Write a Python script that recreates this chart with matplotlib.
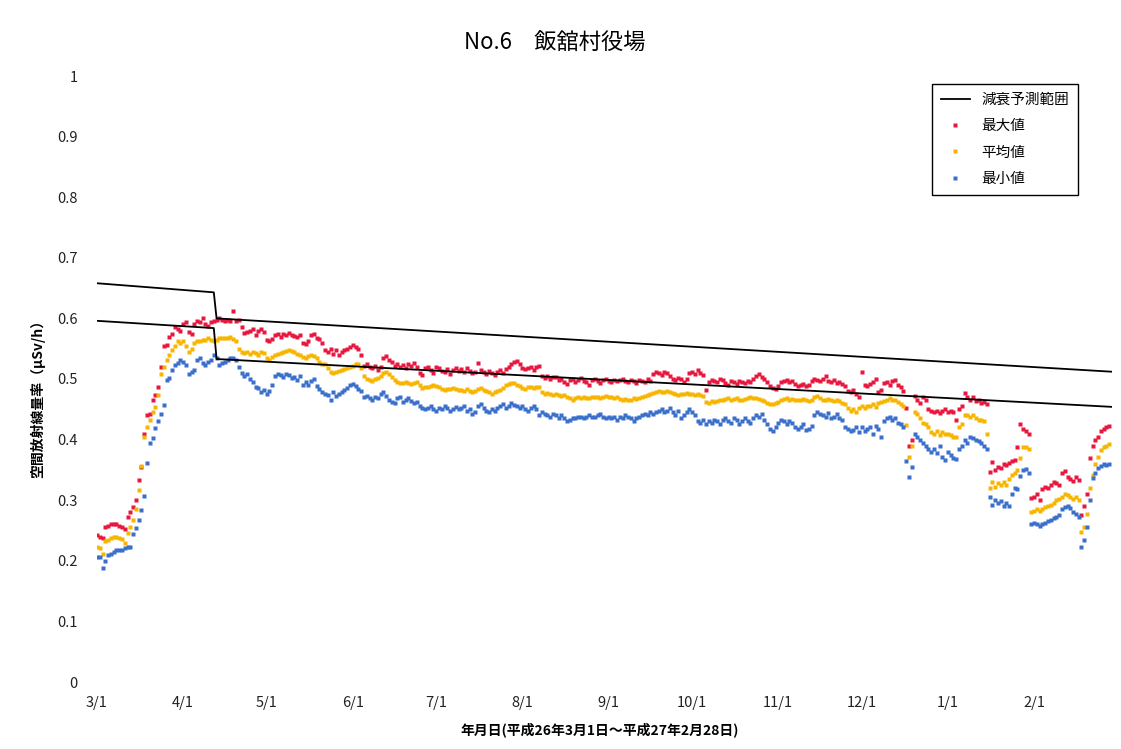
import numpy as np
import pandas as pd
import matplotlib
matplotlib.use("Agg")
import matplotlib.pyplot as plt
from matplotlib.lines import Line2D

plt.rcParams['font.family'] = ['Noto Sans CJK JP', 'DejaVu Sans']

# daily values, one line per month (Mar 2014 .. Feb 2015)
max_vals = [
    0.243, 0.24, 0.238, 0.255, 0.258, 0.26, 0.261, 0.26, 0.258, 0.256, 0.252, 0.273, 0.281, 0.289, 0.3, 0.334, 0.355, 0.41, 0.44, 0.443, 0.465, 0.473, 0.487, 0.52, 0.554, 0.556, 0.57, 0.575, 0.586, 0.583, 0.58,
    0.591, 0.594, 0.577, 0.575, 0.59, 0.595, 0.594, 0.601, 0.59, 0.588, 0.594, 0.595, 0.597, 0.6, 0.597, 0.595, 0.597, 0.595, 0.612, 0.596, 0.597, 0.585, 0.576, 0.578, 0.58, 0.582, 0.573, 0.58, 0.582, 0.578,
    0.565, 0.562, 0.566, 0.572, 0.575, 0.57, 0.574, 0.572, 0.576, 0.573, 0.571, 0.569, 0.572, 0.56, 0.558, 0.563, 0.572, 0.575, 0.568, 0.566, 0.56, 0.548, 0.545, 0.55, 0.542, 0.548, 0.54, 0.545, 0.548, 0.55, 0.553,
    0.556, 0.552, 0.55, 0.54, 0.522, 0.525, 0.52, 0.518, 0.522, 0.515, 0.52, 0.535, 0.538, 0.532, 0.528, 0.522, 0.525, 0.52, 0.523, 0.518, 0.525, 0.522, 0.526, 0.52, 0.51, 0.506, 0.518, 0.52, 0.515, 0.51,
    0.52, 0.518, 0.514, 0.512, 0.516, 0.508, 0.515, 0.518, 0.513, 0.516, 0.512, 0.518, 0.514, 0.51, 0.512, 0.526, 0.515, 0.512, 0.508, 0.514, 0.51, 0.506, 0.512, 0.515, 0.51, 0.516, 0.52, 0.524, 0.528, 0.53, 0.525,
    0.518, 0.516, 0.518, 0.52, 0.515, 0.52, 0.522, 0.505, 0.502, 0.505, 0.5, 0.504, 0.503, 0.498, 0.5, 0.495, 0.492, 0.498, 0.5, 0.495, 0.498, 0.502, 0.497, 0.495, 0.49, 0.498, 0.5, 0.496, 0.494, 0.498, 0.5,
    0.497, 0.495, 0.498, 0.496, 0.498, 0.5, 0.497, 0.495, 0.498, 0.496, 0.494, 0.498, 0.497, 0.495, 0.5, 0.497, 0.508, 0.512, 0.51, 0.506, 0.512, 0.51, 0.505, 0.5, 0.498, 0.502, 0.5, 0.495, 0.5, 0.51,
    0.512, 0.508, 0.515, 0.51, 0.506, 0.482, 0.495, 0.498, 0.497, 0.495, 0.5, 0.498, 0.493, 0.49, 0.497, 0.495, 0.492, 0.497, 0.495, 0.493, 0.497, 0.495, 0.5, 0.505, 0.508, 0.503, 0.5, 0.495, 0.488, 0.485, 0.483,
    0.488, 0.495, 0.497, 0.498, 0.495, 0.497, 0.492, 0.488, 0.49, 0.492, 0.488, 0.49, 0.497, 0.5, 0.498, 0.497, 0.5, 0.505, 0.497, 0.495, 0.498, 0.493, 0.495, 0.492, 0.488, 0.48, 0.478, 0.482, 0.476, 0.47,
    0.512, 0.49, 0.488, 0.492, 0.495, 0.5, 0.478, 0.482, 0.493, 0.495, 0.49, 0.496, 0.498, 0.49, 0.487, 0.48, 0.452, 0.39, 0.4, 0.472, 0.466, 0.46, 0.47, 0.465, 0.45, 0.447, 0.445, 0.448, 0.444, 0.448, 0.45,
    0.445, 0.448, 0.445, 0.432, 0.45, 0.455, 0.477, 0.47, 0.465, 0.47, 0.463, 0.465, 0.46, 0.462, 0.458, 0.347, 0.363, 0.35, 0.355, 0.353, 0.36, 0.358, 0.362, 0.365, 0.367, 0.388, 0.425, 0.418, 0.415, 0.41, 0.303,
    0.305, 0.31, 0.3, 0.318, 0.322, 0.32, 0.325, 0.33, 0.328, 0.325, 0.345, 0.348, 0.338, 0.335, 0.332, 0.338, 0.333, 0.275, 0.29, 0.31, 0.37, 0.39, 0.4, 0.405, 0.415, 0.418, 0.42, 0.422,
]
mean_vals = [
    0.223, 0.221, 0.212, 0.232, 0.235, 0.238, 0.24, 0.24, 0.238, 0.236, 0.23, 0.246, 0.256, 0.267, 0.285, 0.317, 0.356, 0.405, 0.421, 0.432, 0.446, 0.454, 0.474, 0.508, 0.52, 0.531, 0.54, 0.548, 0.554, 0.562, 0.56,
    0.562, 0.554, 0.545, 0.55, 0.56, 0.562, 0.562, 0.564, 0.565, 0.567, 0.564, 0.562, 0.565, 0.567, 0.567, 0.568, 0.567, 0.57, 0.566, 0.562, 0.55, 0.545, 0.543, 0.544, 0.542, 0.545, 0.543, 0.54, 0.545, 0.543,
    0.535, 0.532, 0.537, 0.54, 0.542, 0.543, 0.545, 0.547, 0.548, 0.546, 0.545, 0.542, 0.54, 0.536, 0.535, 0.538, 0.54, 0.538, 0.534, 0.528, 0.525, 0.524, 0.518, 0.512, 0.51, 0.512, 0.513, 0.515, 0.517, 0.518, 0.52,
    0.522, 0.524, 0.525, 0.518, 0.505, 0.5, 0.498, 0.497, 0.5, 0.502, 0.505, 0.51, 0.512, 0.508, 0.503, 0.498, 0.495, 0.494, 0.493, 0.495, 0.494, 0.492, 0.493, 0.495, 0.49, 0.485, 0.486, 0.487, 0.488, 0.49,
    0.489, 0.486, 0.484, 0.482, 0.484, 0.483, 0.485, 0.484, 0.482, 0.482, 0.48, 0.483, 0.481, 0.479, 0.48, 0.483, 0.485, 0.482, 0.48, 0.478, 0.476, 0.478, 0.48, 0.482, 0.485, 0.49, 0.492, 0.494, 0.493, 0.49, 0.488,
    0.485, 0.484, 0.486, 0.487, 0.485, 0.486, 0.487, 0.478, 0.476, 0.477, 0.475, 0.474, 0.476, 0.473, 0.472, 0.474, 0.47, 0.468, 0.466, 0.468, 0.47, 0.469, 0.47, 0.468, 0.469, 0.47, 0.471, 0.47, 0.469, 0.47, 0.472,
    0.471, 0.47, 0.469, 0.47, 0.467, 0.466, 0.467, 0.465, 0.466, 0.468, 0.467, 0.469, 0.47, 0.472, 0.474, 0.476, 0.477, 0.479, 0.48, 0.478, 0.479, 0.48, 0.478, 0.477, 0.476, 0.474, 0.475, 0.476, 0.477, 0.476,
    0.475, 0.473, 0.476, 0.474, 0.472, 0.462, 0.46, 0.463, 0.462, 0.464, 0.465, 0.466, 0.467, 0.468, 0.466, 0.467, 0.468, 0.466, 0.465, 0.467, 0.468, 0.47, 0.468, 0.469, 0.467, 0.465, 0.463, 0.46, 0.459, 0.458, 0.46,
    0.462, 0.465, 0.467, 0.468, 0.466, 0.467, 0.465, 0.466, 0.465, 0.467, 0.466, 0.464, 0.466, 0.47, 0.472, 0.468, 0.466, 0.465, 0.467, 0.466, 0.464, 0.465, 0.463, 0.461, 0.458, 0.452, 0.448, 0.45, 0.446, 0.452,
    0.455, 0.452, 0.455, 0.456, 0.458, 0.454, 0.46, 0.462, 0.464, 0.466, 0.468, 0.466, 0.465, 0.462, 0.458, 0.455, 0.424, 0.372, 0.39, 0.445, 0.443, 0.436, 0.428, 0.425, 0.42, 0.413, 0.41, 0.415, 0.408, 0.412, 0.41,
    0.41, 0.408, 0.405, 0.404, 0.42, 0.425, 0.44, 0.44, 0.438, 0.44, 0.435, 0.433, 0.432, 0.43, 0.41, 0.32, 0.33, 0.322, 0.328, 0.325, 0.33, 0.325, 0.335, 0.342, 0.345, 0.35, 0.37, 0.387, 0.388, 0.385, 0.28,
    0.282, 0.285, 0.283, 0.286, 0.288, 0.29, 0.292, 0.295, 0.3, 0.302, 0.305, 0.31, 0.308, 0.305, 0.302, 0.306, 0.3, 0.248, 0.255, 0.277, 0.32, 0.342, 0.36, 0.372, 0.383, 0.388, 0.39, 0.393,
]
min_vals = [
    0.207, 0.206, 0.188, 0.199, 0.21, 0.212, 0.215, 0.218, 0.217, 0.218, 0.221, 0.222, 0.223, 0.245, 0.254, 0.267, 0.284, 0.307, 0.361, 0.394, 0.402, 0.419, 0.43, 0.443, 0.457, 0.498, 0.501, 0.515, 0.523, 0.526, 0.531,
    0.528, 0.523, 0.509, 0.512, 0.515, 0.531, 0.534, 0.526, 0.523, 0.528, 0.531, 0.54, 0.534, 0.523, 0.526, 0.528, 0.531, 0.534, 0.535, 0.531, 0.52, 0.51, 0.505, 0.508, 0.5, 0.495, 0.487, 0.485, 0.478, 0.482,
    0.476, 0.48, 0.49, 0.505, 0.508, 0.507, 0.504, 0.509, 0.506, 0.502, 0.504, 0.498, 0.505, 0.49, 0.495, 0.49, 0.497, 0.5, 0.488, 0.483, 0.478, 0.475, 0.474, 0.465, 0.478, 0.472, 0.475, 0.478, 0.482, 0.485, 0.49,
    0.492, 0.488, 0.483, 0.48, 0.47, 0.472, 0.468, 0.465, 0.47, 0.468, 0.475, 0.478, 0.472, 0.466, 0.462, 0.46, 0.468, 0.47, 0.462, 0.465, 0.468, 0.463, 0.46, 0.462, 0.455, 0.452, 0.45, 0.452, 0.455, 0.45,
    0.448, 0.452, 0.45, 0.455, 0.452, 0.448, 0.45, 0.453, 0.45, 0.452, 0.455, 0.448, 0.45, 0.442, 0.446, 0.455, 0.458, 0.452, 0.448, 0.445, 0.45, 0.448, 0.452, 0.455, 0.458, 0.452, 0.456, 0.46, 0.457, 0.455, 0.452,
    0.455, 0.45, 0.448, 0.452, 0.455, 0.45, 0.44, 0.445, 0.442, 0.44, 0.438, 0.442, 0.44, 0.436, 0.44, 0.435, 0.43, 0.432, 0.435, 0.436, 0.437, 0.438, 0.436, 0.438, 0.44, 0.437, 0.438, 0.44, 0.442, 0.438, 0.436,
    0.438, 0.435, 0.437, 0.433, 0.437, 0.436, 0.44, 0.438, 0.435, 0.43, 0.436, 0.438, 0.44, 0.442, 0.44, 0.445, 0.442, 0.446, 0.448, 0.45, 0.445, 0.448, 0.452, 0.445, 0.44, 0.448, 0.435, 0.44, 0.445, 0.45,
    0.445, 0.44, 0.43, 0.428, 0.432, 0.425, 0.43, 0.428, 0.432, 0.43, 0.426, 0.432, 0.436, 0.43, 0.428, 0.435, 0.432, 0.425, 0.43, 0.435, 0.43, 0.428, 0.435, 0.44, 0.437, 0.442, 0.432, 0.425, 0.418, 0.415, 0.42,
    0.428, 0.432, 0.43, 0.425, 0.43, 0.428, 0.42, 0.418, 0.42, 0.425, 0.416, 0.418, 0.422, 0.44, 0.445, 0.442, 0.44, 0.438, 0.444, 0.436, 0.438, 0.442, 0.435, 0.432, 0.42, 0.418, 0.414, 0.416, 0.42, 0.412,
    0.42, 0.415, 0.418, 0.42, 0.41, 0.422, 0.418, 0.405, 0.43, 0.435, 0.438, 0.432, 0.436, 0.428, 0.425, 0.42, 0.364, 0.338, 0.355, 0.41, 0.405, 0.4, 0.395, 0.39, 0.385, 0.38, 0.385, 0.378, 0.39, 0.372, 0.366,
    0.38, 0.375, 0.37, 0.368, 0.385, 0.39, 0.4, 0.395, 0.405, 0.403, 0.4, 0.398, 0.395, 0.39, 0.385, 0.305, 0.292, 0.3, 0.295, 0.298, 0.29, 0.296, 0.29, 0.31, 0.32, 0.318, 0.34, 0.35, 0.352, 0.345, 0.26,
    0.262, 0.26, 0.258, 0.26, 0.262, 0.265, 0.268, 0.27, 0.272, 0.275, 0.285, 0.288, 0.29, 0.287, 0.28, 0.278, 0.272, 0.223, 0.235, 0.255, 0.3, 0.337, 0.345, 0.353, 0.357, 0.36, 0.358, 0.36,
]

# decay prediction range (upper / lower), step on 4/13
range_dates = ['2014-03-01', '2014-04-12', '2014-04-13', '2015-03-01']
range_upper = [0.658, 0.643, 0.600, 0.512]
range_lower = [0.596, 0.584, 0.533, 0.454]

dates = pd.date_range('2014-03-01', '2015-02-28', freq='D')
rdates = pd.to_datetime(range_dates)

red, yellow, blue = '#e8173f', '#f7b500', '#3a6fcb'

fig = plt.figure(figsize=(11.21, 7.49), dpi=100)
ax = fig.add_axes([97/1121, 1-682/749, (1112-97)/1121, (682-76)/749])

ax.plot(rdates, range_upper, color='black', lw=1.3, zorder=3)
ax.plot(rdates, range_lower, color='black', lw=1.3, zorder=3)
ax.plot(dates, max_vals, ls='none', marker='s', ms=3.4, color=red, mec='none', zorder=2)
ax.plot(dates, mean_vals, ls='none', marker='s', ms=3.4, color=yellow, mec='none', zorder=2)
ax.plot(dates, min_vals, ls='none', marker='s', ms=3.4, color=blue, mec='none', zorder=2)

ax.set_xlim(pd.Timestamp('2014-03-01'), pd.Timestamp('2015-03-01'))
ax.set_ylim(0, 1)
ax.set_yticks(np.arange(0, 1.01, 0.1))
ax.set_yticklabels(['0'] + ['%.1f' % v for v in np.arange(0.1, 0.95, 0.1)] + ['1'])
ticks = pd.date_range('2014-03-01', '2015-02-01', freq='MS')
ax.set_xticks(ticks)
ax.set_xticklabels([f'{t.month}/{t.day}' for t in ticks])
ax.tick_params(length=0, labelsize=10.5, colors='#222222')
ax.tick_params(axis='x', pad=10)
ax.tick_params(axis='y', pad=14)
for s in ax.spines.values():
    s.set_visible(False)

fig.text(555/1121, 1-43/749, 'No.6\u3000飯舘村役場', ha='center', va='center', fontsize=16)
fig.text(600/1121, 1-730/749, '年月日(平成26年3月1日～平成27年2月28日)', ha='center', va='center',
         fontsize=10, fontweight='bold')
fig.text(38/1121, 1-395/749, '空間放射線量率（μSv/h）', ha='center', va='center', rotation=90,
         fontsize=10, fontweight='bold')

handles = [Line2D([], [], color='black', lw=1.3),
           Line2D([], [], ls='none', marker='s', ms=3.4, color=red, mec='none'),
           Line2D([], [], ls='none', marker='s', ms=3.4, color=yellow, mec='none'),
           Line2D([], [], ls='none', marker='s', ms=3.4, color=blue, mec='none')]
leg = fig.legend(handles, ['減衰予測範囲', '最大値', '平均値', '最小値'], loc='upper right',
                 bbox_to_anchor=(1078/1121, 1-84/749), borderaxespad=0, fontsize=10.5, fancybox=False,
                 edgecolor='black', framealpha=1, handlelength=2.0, borderpad=0.6, labelspacing=0.85)
leg.get_frame().set_linewidth(1.0)

fig.savefig('out.png', dpi=100)
